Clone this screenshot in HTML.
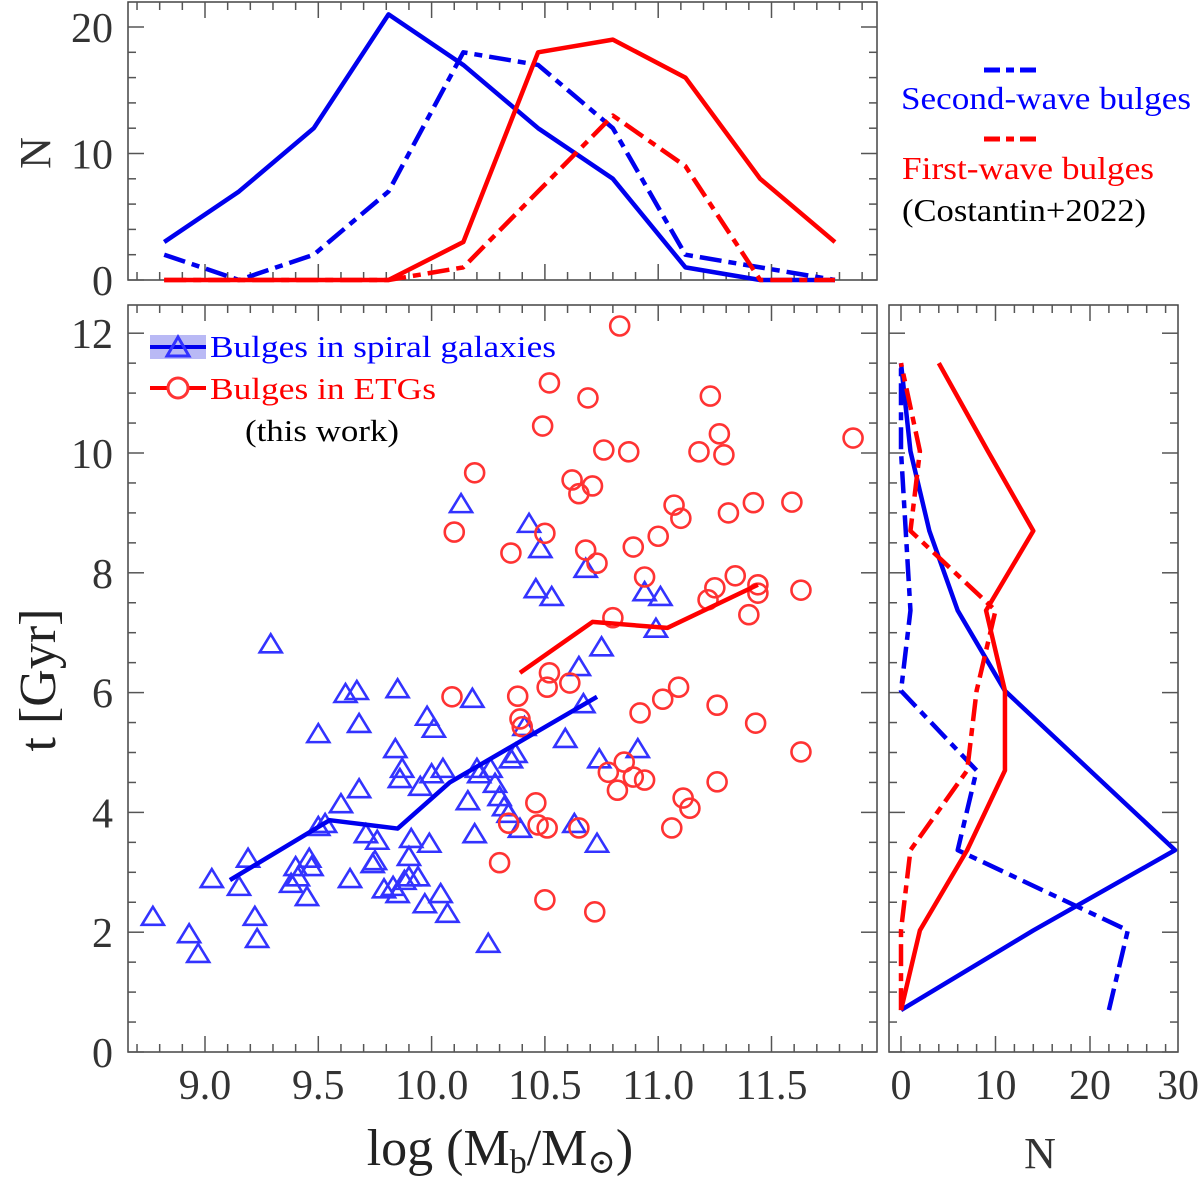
<!DOCTYPE html>
<html><head><meta charset="utf-8"><style>
html,body{margin:0;padding:0;background:#fff}
svg{display:block;font-family:"Liberation Serif","DejaVu Serif",serif}
</style></head><body>
<svg id="chart" width="1200" height="1181" viewBox="0 0 1200 1181" xmlns="http://www.w3.org/2000/svg">
<g id="g-main"></g>
<g id="g-top"></g>
<g id="g-right"></g>
<g id="g-text">
<text x="500" y="1165" font-size="52" text-anchor="middle" fill="#222">log (M<tspan font-size="34" dy="8">b</tspan><tspan dy="-8">/M</tspan><tspan font-size="34" dy="8">⊙</tspan><tspan dy="-8">)</tspan></text>
<text transform="translate(55,680) rotate(-90)" font-size="52" text-anchor="middle" fill="#222">t [Gyr]</text>
<text transform="translate(50,153) rotate(-90)" font-size="44" text-anchor="middle" fill="#333">N</text>
<text x="1040" y="1168" font-size="44" text-anchor="middle" fill="#333">N</text>
<g>
<line x1="984" y1="70" x2="1040" y2="70" stroke="#0000ff" stroke-width="5" stroke-dasharray="16,6,8,6"/>
<text x="1046" y="109" font-size="32" fill="#0000ff" text-anchor="middle" textLength="290" lengthAdjust="spacingAndGlyphs">Second-wave bulges</text>
<line x1="984" y1="139" x2="1040" y2="139" stroke="#ff0000" stroke-width="5" stroke-dasharray="16,6,8,6"/>
<text x="902" y="179" font-size="32" fill="#ff0000" textLength="252" lengthAdjust="spacingAndGlyphs">First-wave bulges</text>
<text x="902" y="221" font-size="32" fill="#000" textLength="244" lengthAdjust="spacingAndGlyphs">(Costantin+2022)</text>
</g>
<g>
<rect x="150" y="335" width="56" height="24" fill="#b9b9f5"/>
<line x1="150" y1="347" x2="206" y2="347" stroke="#0000ee" stroke-width="4"/>
<polygon points="167,356 178,337 189,356" fill="none" stroke="#3333ff" stroke-width="3"/>
<text x="210" y="357" font-size="31" fill="#0000ff" textLength="346" lengthAdjust="spacingAndGlyphs">Bulges in spiral galaxies</text>
<line x1="150" y1="388" x2="206" y2="388" stroke="#ff0000" stroke-width="4"/>
<circle cx="178" cy="388" r="10" fill="#fff" stroke="#ff3333" stroke-width="3"/>
<text x="210" y="399" font-size="31" fill="#ff0000" textLength="226" lengthAdjust="spacingAndGlyphs">Bulges in ETGs</text>
<text x="245" y="441" font-size="31" fill="#000" textLength="154" lengthAdjust="spacingAndGlyphs">(this work)</text>
</g>
</g>
</svg>
<script>
// ---- data ----
const spiralMass=[8.77,8.93,8.97,9.03,9.15,9.19,9.22,9.23,9.29,9.40,9.41,9.38,9.46,9.47,9.45,9.50,9.50,9.53,9.60,9.62,9.64,9.67,9.68,9.68,9.71,9.74,9.75,9.76,9.79,9.83,9.84,9.85,9.85,9.88,9.86,9.87,9.90,9.90,9.91,9.94,9.95,9.97,9.99,9.98,10.01,10.00,10.04,10.05,10.07,10.16,10.18,10.19,10.20,10.21,10.25,10.26,10.28,10.30,10.32,10.34,10.35,10.37,10.13,10.43,10.48,10.46,10.53,10.41,10.39,10.59,10.65,10.67,10.68,10.63,10.73,10.74,10.75,10.91,10.94,11.01,10.99];
const spiralAge=[2.24,1.95,1.62,2.87,2.74,3.21,2.24,1.87,6.79,3.07,2.90,2.79,3.21,3.07,2.57,5.29,3.74,3.79,4.12,5.96,2.87,6.01,5.46,4.37,3.62,3.12,3.17,3.51,2.70,2.74,5.04,6.04,2.62,2.84,4.54,4.71,3.24,2.90,3.54,2.90,4.41,2.45,3.46,5.58,5.38,4.62,2.62,4.71,2.29,4.17,5.88,3.62,4.71,4.62,1.79,4.71,4.46,4.24,4.07,3.96,4.87,4.96,9.13,8.80,8.38,7.71,7.58,5.41,3.71,5.21,6.41,5.79,8.05,3.79,3.46,4.87,6.74,5.04,7.66,7.58,7.05];
const etgMass=[10.83,10.52,10.69,10.49,11.23,11.27,11.29,10.76,10.87,11.18,10.19,10.10,10.35,10.50,10.62,10.65,10.71,11.07,11.10,11.31,11.42,11.59,11.86,10.68,10.73,10.89,11.00,10.94,10.80,11.22,11.25,11.34,11.44,11.44,11.40,11.63,10.09,10.38,10.39,10.52,10.51,10.61,10.40,10.92,11.02,11.09,11.26,11.43,11.63,10.78,10.82,10.85,10.89,10.94,10.46,10.47,10.34,10.51,10.65,11.11,11.14,11.06,11.26,10.30,10.50,10.72];
const etgAge=[12.12,11.17,10.92,10.45,10.95,10.32,9.97,10.05,10.02,10.02,9.67,8.68,8.33,8.66,9.55,9.32,9.45,9.13,8.91,9.00,9.17,9.18,10.25,8.38,8.16,8.43,8.61,7.93,7.25,7.55,7.75,7.95,7.80,7.66,7.30,7.71,5.93,5.94,5.56,6.33,6.09,6.16,5.43,5.66,5.89,6.09,5.79,5.49,5.01,4.67,4.37,4.84,4.59,4.54,4.16,3.79,3.82,3.74,3.74,4.24,4.07,3.74,4.51,3.16,2.54,2.34];
const spiralMedMass=[9.11,9.55,9.85,10.08,10.73];
const spiralMedAge=[2.87,3.87,3.73,4.50,5.93];
const etgMedMass=[10.39,10.71,11.04,11.44];
const etgMedAge=[6.33,7.18,7.08,7.80];
// top histograms
const histMass=[8.82,9.15,9.48,9.81,10.14,10.47,10.80,11.12,11.45,11.78];
const topBlueSolid=[3,7,12,21,17,12,8,1,0,0];
const topBlueDash=[2,0,2,7,18,17,12,2,1,0];
const topRedSolid=[0,0,0,0,3,18,19,16,8,3];
const topRedDash=[0,0,0,0,1,7,13,9,0,0];
// right histograms
const histAge=[0.7,2.03,3.37,4.7,6.03,7.37,8.7,10.03,11.5];
const rightBlueSolid=[0,14,29,20,11,6,3,1,0];
const rightBlueDash=[22,24,6,8,0,1,0.5,0,0];
const rightRedSolid=[0,2,7,11,11,9,14,9.2,4];
const rightRedDash=[0,0,1,7,8,10,1,2,0];
const xTicks=[9.0,9.5,10.0,10.5,11.0,11.5];
const yTicks=[0,2,4,6,8,10,12];
const topTicks=[0,10,20];
const rightTicks=[0,10,20,30];

// ---- axes ----
const X=v=>205+(v-9)*226.6;
const Y=v=>1052-v*59.9;
const TY=v=>280-v*12.65;
const RX=v=>901+v*9.45;
const NS="http://www.w3.org/2000/svg";
function mk(tag,attrs,parent){const e=document.createElementNS(NS,tag);for(const k in attrs)e.setAttribute(k,attrs[k]);parent.appendChild(e);return e;}
const gM=document.getElementById('g-main'),gT=document.getElementById('g-top'),gR=document.getElementById('g-right');
const TC="#555";
let f=mk('rect',{x:128,y:305,width:749,height:747,fill:'none',stroke:'#444','stroke-width':1.5},gM);


f=mk('rect',{x:128,y:2,width:749,height:278,fill:'none',stroke:'#444','stroke-width':1.5},gT);


f=mk('rect',{x:889,y:305,width:289,height:747,fill:'none',stroke:'#444','stroke-width':1.5},gR);


for(let v=8.7;v<=11.95;v+=0.1){
  const vv=Math.round(v*10)/10, px=X(vv), major=Math.abs(vv*2-Math.round(vv*2))<1e-6, L=major?16:8;
  mk('line',{x1:px,y1:1052,x2:px,y2:1052-L,stroke:TC,'stroke-width':1.5},gM);
  mk('line',{x1:px,y1:305,x2:px,y2:305+L,stroke:TC,'stroke-width':1.5},gM);
  mk('line',{x1:px,y1:280,x2:px,y2:280-L,stroke:TC,'stroke-width':1.5},gT);
  mk('line',{x1:px,y1:2,x2:px,y2:2+L,stroke:TC,'stroke-width':1.5},gT);
}
xTicks.forEach(v=>{const t=mk('text',{x:X(v),y:1099,'font-size':42,'text-anchor':'middle',fill:'#333'},gM);t.textContent=v.toFixed(1);

});
for(let v=0;v<=12.4;v+=0.5){
  const py=Y(v), major=(v%2===0), L=major?16:8;
  mk('line',{x1:128,y1:py,x2:128+L,y2:py,stroke:TC,'stroke-width':1.5},gM);
  mk('line',{x1:877,y1:py,x2:877-L,y2:py,stroke:TC,'stroke-width':1.5},gM);
  mk('line',{x1:889,y1:py,x2:889+L,y2:py,stroke:TC,'stroke-width':1.5},gR);
  mk('line',{x1:1178,y1:py,x2:1178-L,y2:py,stroke:TC,'stroke-width':1.5},gR);
}
yTicks.forEach(v=>{const t=mk('text',{x:113,y:Y(v)+15,'font-size':42,'text-anchor':'end',fill:'#333'},gM);t.textContent=v;

});
for(let v=0;v<=21;v+=2){const py=TY(v),L=(v%10===0)?16:8;
  mk('line',{x1:128,y1:py,x2:128+L,y2:py,stroke:TC,'stroke-width':1.5},gT);
  mk('line',{x1:877,y1:py,x2:877-L,y2:py,stroke:TC,'stroke-width':1.5},gT);}
topTicks.forEach(v=>{const t=mk('text',{x:113,y:TY(v)+15,'font-size':42,'text-anchor':'end',fill:'#333'},gT);t.textContent=v;

});
for(let v=0;v<=29;v+=2){const px=RX(v),L=(v%10===0)?16:8;
  mk('line',{x1:px,y1:1052,x2:px,y2:1052-L,stroke:TC,'stroke-width':1.5},gR);
  mk('line',{x1:px,y1:305,x2:px,y2:305+L,stroke:TC,'stroke-width':1.5},gR);}
rightTicks.forEach(v=>{const t=mk('text',{x:Math.min(RX(v),1178),y:1099,'font-size':42,'text-anchor':'middle',fill:'#333'},gR);t.textContent=v;

});
spiralMass.forEach((m,i)=>{const cx=X(m),cy=Y(spiralAge[i]);
  const p=mk('polygon',{points:`${cx-11},${cy+7} ${cx},${cy-11} ${cx+11},${cy+7}`,fill:'none',stroke:'#3333ff','stroke-width':2.6},gM);
  
  });
etgMass.forEach((m,i)=>{
  const c=mk('circle',{cx:X(m),cy:Y(etgAge[i]),r:9.5,fill:'none',stroke:'#ff3333','stroke-width':2.6},gM);
  
  });
function line(g,xs,ys,fx,fy,color,dash,name){
  const pts=xs.map((x,i)=>fx(x)+','+fy(ys[i])).join(' ');
  const a={points:pts,fill:'none',stroke:color,'stroke-width':4.5,'stroke-linejoin':'round'};
  if(dash)a['stroke-dasharray']='22,7,8,7';
  const l=mk('polyline',a,g);
  
  
}
line(gM,spiralMedMass,spiralMedAge,X,Y,'#0000ee',false,'spiral-median-line');
line(gM,etgMedMass,etgMedAge,X,Y,'#ff0000',false,'etg-median-line');
line(gT,histMass,topBlueSolid,X,TY,'#0000ee',false,'top-spiral-hist');
line(gT,histMass,topBlueDash,X,TY,'#0000ee',true,'top-second-wave-hist');
line(gT,histMass,topRedSolid,X,TY,'#ff0000',false,'top-etg-hist');
line(gT,histMass,topRedDash,X,TY,'#ff0000',true,'top-first-wave-hist');
line(gR,rightBlueSolid,histAge,RX,Y,'#0000ee',false,'right-spiral-hist');
line(gR,rightBlueDash,histAge,RX,Y,'#0000ee',true,'right-second-wave-hist');
line(gR,rightRedSolid,histAge,RX,Y,'#ff0000',false,'right-etg-hist');
line(gR,rightRedDash,histAge,RX,Y,'#ff0000',true,'right-first-wave-hist');
</script>
</body></html>
